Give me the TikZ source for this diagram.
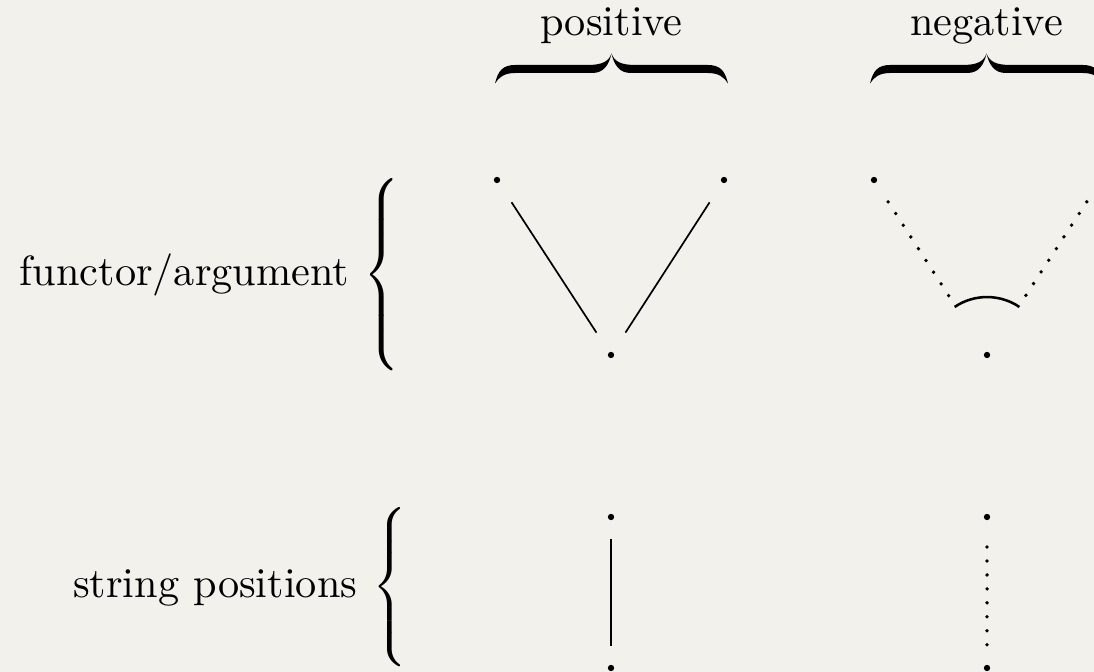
\documentclass[tikz,border=0pt]{standalone}
\usepackage{amsmath}
\usepackage{graphicx}
\usetikzlibrary{positioning}
\definecolor{paper}{RGB}{243,241,236}
\newcommand{\tallbrace}[2]{\resizebox*{#1}{#2}{$\nulldelimiterspace=0pt\left\{\vcenter{\hrule height 40pt width 0pt}\right.$}}

\begin{document}
\begin{tikzpicture}[x=2.365pt, y=2.365pt,
        dot/.style={circle, fill, inner sep=0pt, minimum size=1.5pt},
        lbl/.style={inner sep=0pt},
        posline/.style={shorten <=6.3pt, shorten >=6.3pt},
        negline/.style={line width=0.9pt, line cap=round, dash pattern=on 0pt off 3.3pt},
        halfbrace/.pic={
            \fill (-11.65,-1.55) .. controls (-11.35,-0.3) and (-10.9,0.3) .. (-9.6,0.3)
                -- (-2.4,0.3) .. controls (-1.0,0.3) and (-0.3,0.6) .. (0,1.45)
                .. controls (-0.25,0.3) and (-0.8,-0.5) .. (-1.9,-0.5)
                -- (-9.6,-0.5) .. controls (-10.7,-0.5) and (-11.25,-0.9) .. (-11.65,-1.55) -- cycle;
        },
        topbrace/.pic={
            \pic {halfbrace};
            \pic[xscale=-1] {halfbrace};
        }]
        \fill[paper] (0,0) rectangle (109.4,67.2);
        \clip (0,0) rectangle (109.4,67.2);
        % column heads
        \node[lbl, anchor=base] (postxt) at (61.15,63.6) {positive};
        \node[lbl, anchor=base] (negtxt) at (98.65,63.6) {negative};
        \pic at (61.15,60.4) {topbrace};
        \pic at (98.65,60.4) {topbrace};
        % row heads
        \node[lbl, anchor=west] (fbrace) at (36.3,39.75) {\tallbrace{8.6pt}{45.6pt}};
        \node[lbl, anchor=west] (sbrace) at (37.2,8.5) {\tallbrace{8.2pt}{37.8pt}};
        \node[lbl, anchor=base east] (ftxt) at ([xshift=-3.1pt, yshift=-2.5pt]fbrace.west) {functor/argument};
        \node[lbl, anchor=base east] (stxt) at ([xshift=-3.3pt, yshift=-2.5pt]sbrace.west) {string positions};
        % positive
        \node[dot] (a1) at (49.7,49.2) {};
        \node[dot] (a2) at (72.4,49.2) {};
        \node[dot] (a3) at (61.1,31.7) {};
        \node[dot] (c1) at (61.1,15.5) {};
        \node[dot] (c2) at (61.1,0.4) {};
        \draw[posline] (a1.center) -- (a3.center);
        \draw[posline] (a2.center) -- (a3.center);
        \draw[shorten <=5.2pt, shorten >=5.2pt] (c1.center) -- (c2.center);
        % negative
        \node[dot] (b1) at (87.4,49.2) {};
        \node[dot] (b2) at (110.1,49.2) {};
        \node[dot] (b3) at (98.7,31.7) {};
        \node[dot] (d1) at (98.7,15.5) {};
        \node[dot] (d2) at (98.7,0.4) {};
        \draw[negline, shorten <=6.15pt, shorten >=16.5pt] (b1.center) -- (b3.center);
        \draw[negline, shorten <=6.15pt, shorten >=16.5pt] (b2.center) -- (b3.center);
        \draw[line width=0.6pt] ([shift={(124:13.7pt)}]b3.center) arc[start angle=124, end angle=56, radius=13.7pt];
        \draw[negline, shorten <=7.1pt, shorten >=5.5pt] (d1.center) -- (d2.center);
    \end{tikzpicture}
\end{document}
